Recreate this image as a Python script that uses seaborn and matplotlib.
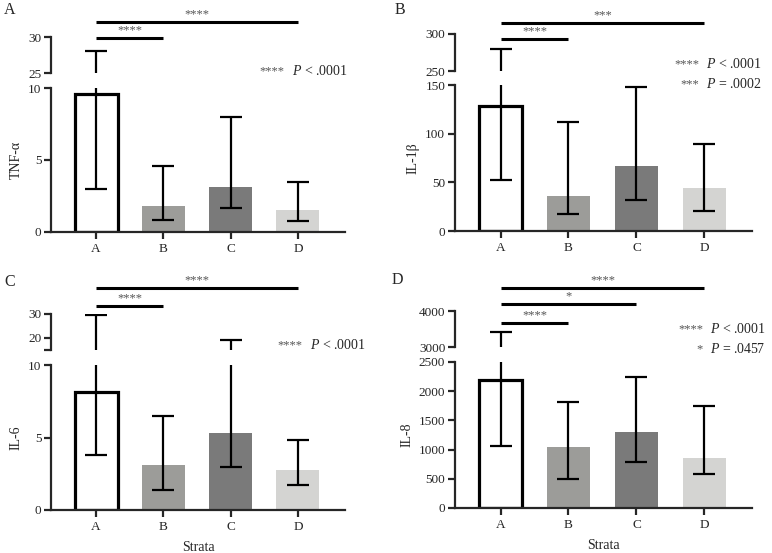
import numpy as np
import pandas as pd
import matplotlib
matplotlib.use("Agg")
import matplotlib.pyplot as plt
import matplotlib.transforms as mtransforms
import seaborn as sns

# data (median bar, lower/upper error)
strata = ["A", "B", "C", "D"]

tnf_mid = [9.6, 1.8, 3.1, 1.55]
tnf_lo = [3.0, 0.8, 1.7, 0.75]
tnf_hi = [28.0, 4.55, 8.0, 3.45]

il1b_mid = [128, 35.5, 66.5, 44]
il1b_lo = [52.5, 17, 32, 21]
il1b_hi = [280, 111.5, 147.5, 89.5]

il6_mid = [8.15, 3.1, 5.3, 2.75]
il6_lo = [3.8, 1.35, 3.0, 1.75]
il6_hi = [29.6, 6.45, 19.0, 4.85]

il8_mid = [2200, 1040, 1295, 860]
il8_lo = [1055, 505, 780, 580]
il8_hi = [3430, 1810, 2235, 1740]

bar_colors = ["white", "#9c9c98", "#7a7a7a", "#d4d4d2"]

sns.set_style("white")
plt.rcParams["font.family"] = ["Liberation Serif", "DejaVu Serif"]
plt.rcParams["mathtext.fontset"] = "custom"
plt.rcParams["mathtext.it"] = "Liberation Serif:italic"
plt.rcParams["mathtext.rm"] = "Liberation Serif"

W, H = 772, 553
fig = plt.figure(figsize=(W / 100, H / 100), dpi=100)


def rect(x0, x1, ytop, ybot):
    return [x0 / W, (H - ybot) / H, (x1 - x0) / W, (ybot - ytop) / H]


def fy(py):
    return (H - py) / H


def panel(letter, lx, ly, x0, x1, low_box, top_box, low_lim, top_lim,
          low_ticks, top_ticks, top_labels, mid, lo, hi, ylabel, xlabel,
          sig, pvals):
    df = pd.DataFrame({"strata": strata, "value": mid})
    ax = fig.add_axes(rect(x0, x1, *low_box))
    axt = fig.add_axes(rect(x0, x1, *top_box))

    sns.barplot(data=df, x="strata", y="value", hue="strata",
                palette=bar_colors, width=0.64, ax=ax, legend=False,
                edgecolor="none", linewidth=0)
    p = ax.patches[0]
    p.set_edgecolor("black")
    p.set_linewidth(2.3)

    xs = np.arange(4)
    mid_a = np.array(mid, float)
    for a in (ax, axt):
        a.errorbar(xs, mid_a, yerr=[mid_a - np.array(lo), np.array(hi) - mid_a],
                   fmt="none", ecolor="black", elinewidth=1.6, capsize=8,
                   capthick=1.6, zorder=5)
        a.set_xlim(-0.67, 3.70)
        a.set_facecolor("none")
        for s in ("top", "right"):
            a.spines[s].set_visible(False)
        a.spines["left"].set_linewidth(1.6)
        a.tick_params(axis="y", direction="out", length=5, width=1.6,
                      labelsize=9.5, pad=2, left=True)

    ax.set_ylim(*low_lim)
    ax.set_yticks(low_ticks)
    ax.spines["bottom"].set_linewidth(1.6)
    ax.tick_params(axis="x", direction="out", length=5, width=1.6,
                   labelsize=9.5, pad=3, bottom=True)
    ax.set_ylabel(ylabel, fontsize=10, labelpad=4)
    ax.set_xlabel(xlabel, fontsize=10, labelpad=6)

    axt.set_ylim(*top_lim)
    axt.set_yticks(top_ticks)
    axt.set_yticklabels(top_labels)
    axt.spines["bottom"].set_visible(False)
    axt.set_xticks([])

    fig.text(lx / W, fy(ly), letter, fontsize=11.5, va="center", ha="left")

    tr = mtransforms.blended_transform_factory(ax.transData, fig.transFigure)
    for x_end, py, stars in sig:
        ax.plot([0, x_end], [fy(py), fy(py)], color="black", lw=2.2,
                transform=tr, clip_on=False, solid_capstyle="butt")
        ax.text(x_end / 2, fy(py - 2), stars, transform=tr, ha="center",
                va="bottom", fontsize=9, color="#555555")

    for px_star, px_p, py, stars, ptxt in pvals:
        fig.text(px_star / W, fy(py), stars, ha="right", va="center",
                 fontsize=9, color="#555555")
        fig.text(px_p / W, fy(py), r"$\it{P}$" + ptxt, ha="left",
                 va="center", fontsize=10)


panel("A", 4, 10, 51, 345, (88, 232), (37, 73), (0, 10), (25, 30),
      [0, 5, 10], [25, 30], ["25", "30"], tnf_mid, tnf_lo, tnf_hi,
      "TNF-α", "",
      [(3, 22, "****"), (1, 38, "****")],
      [(284, 292, 71, "****", " < .0001")])

panel("B", 395, 10, 455, 752, (85, 231), (34, 71), (0, 150), (250, 300),
      [0, 50, 100, 150], [250, 300], ["250", "300"], il1b_mid, il1b_lo,
      il1b_hi, "IL-1β", "",
      [(3, 23, "***"), (1, 39, "****")],
      [(699, 706, 64, "****", " < .0001"),
       (699, 706, 84, "***", " = .0002")])

panel("C", 4, 282, 51, 345, (365, 510), (314, 350), (0, 10), (15, 30),
      [0, 5, 10], [15, 20, 30], ["", "20", "30"], il6_mid, il6_lo, il6_hi,
      "IL-6", "Strata",
      [(3, 288, "****"), (1, 306, "****")],
      [(302, 310, 345, "****", " < .0001")])

panel("D", 392, 280, 455, 752, (362, 508), (311, 347), (0, 2500),
      (3000, 4000), [0, 500, 1000, 1500, 2000, 2500], [3000, 4000],
      ["3000", "4000"], il8_mid, il8_lo, il8_hi, "IL-8", "Strata",
      [(3, 288, "****"), (2, 304, "*"), (1, 323, "****")],
      [(703, 710, 329, "****", " < .0001"),
       (703, 710, 349, "*", " = .0457")])

fig.savefig("out.png", dpi=100)
